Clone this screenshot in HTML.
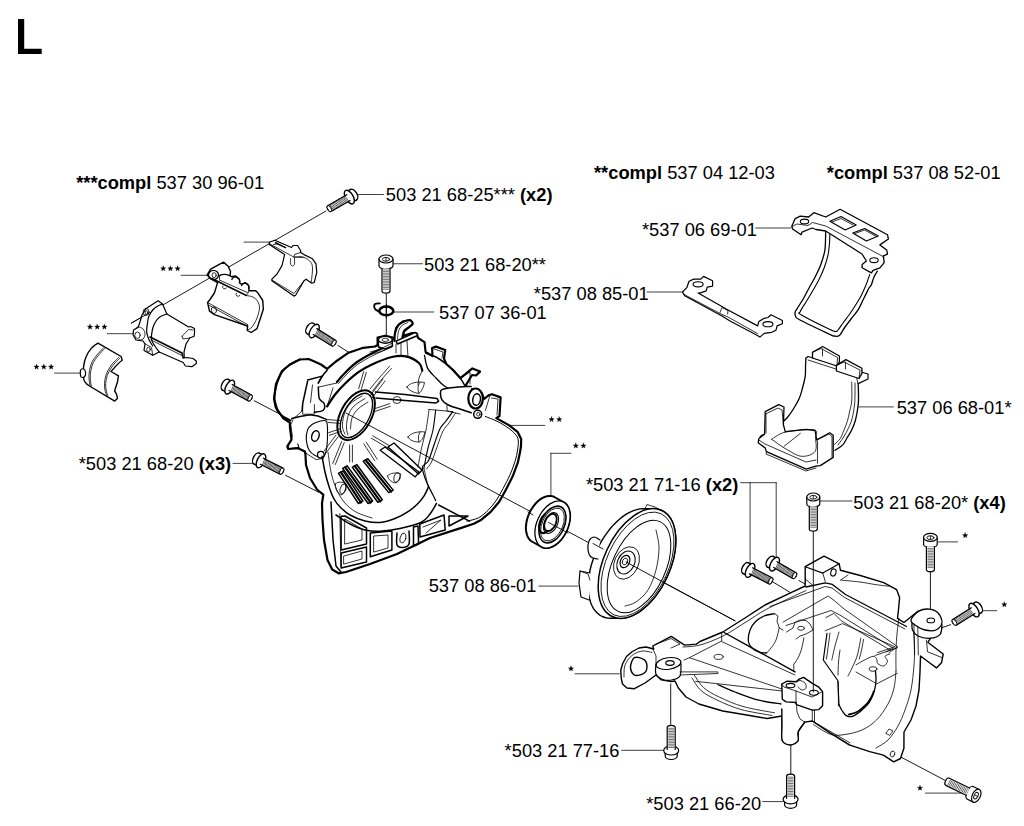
<!DOCTYPE html>
<html><head><meta charset="utf-8">
<style>
html,body{margin:0;padding:0;background:#fff;}
body{width:1024px;height:826px;position:relative;overflow:hidden;font-family:"Liberation Sans",sans-serif;color:#000;}
.t{position:absolute;font-size:18.3px;line-height:1;white-space:nowrap;}
.s{font-size:16.5px;}
#L{position:absolute;left:13px;top:10px;font-size:48px;font-weight:bold;line-height:1;}
svg{position:absolute;left:0;top:0;}
</style></head><body>
<svg width="1024" height="826" viewBox="0 0 1024 826">
<style>
g.d{fill:none;stroke:#000;stroke-width:1.2;stroke-linejoin:round;stroke-linecap:round}
.w{fill:#fff}
.th{stroke-width:0.55}
.ld{stroke:#000;stroke-width:0.75}
.ax{stroke:#000;stroke-width:0.9}
.tn{stroke-width:0.8}
</style>
<g class="d">
<path class="ld" d="M358.5,194.5 L383.5,194.5 M393,263.75 L422.5,263.75 M394,312 L433.75,312 M755.75,228 L790.75,228 M647,292 L682.5,292 M858.8,406.9 L893.3,406.9 M508.7,425.4 L544.8,425.4 M550.9,453.3 L570.9,453.3 M550.9,453.3 L550.9,495.9 M233,463.4 L254.5,463.4 M740.6,482.7 L776.2,482.7 M750.1,482.7 L750.1,563.3 M776.2,482.7 L776.2,559 M819,501 L852,501 M938.1,541.9 L957.5,541.9 M981.7,610.7 L996.7,610.7 M538.8,586.1 L577.9,586.1 M575,673.8 L619.4,673.8 M621.7,750.3 L664.4,750.3 M762.7,801.6 L783.9,801.6 M925.5,793.1 L960.9,793.1 M181.2,275.3 L207,275.3 M107.3,333.7 L132.7,333.7 M54.5,373.1 L80,373.1 M244,242.1 L269.8,242.1"/>
<path class="ax" d="M326,211 L131.4,323.1 M337.9,345.4 L349.7,353 M254.2,400.7 L291.5,420.2 M285.6,475.3 L318.6,492.2 M386.3,293 L386.3,345 M773,582 L791.7,593.4 M798.9,580.5 L809,586.2 M930.4,571 L930.4,611 M950.7,624.7 L942,627.6 M670.7,683.9 L670.7,724.4 M790.8,743.8 L790.8,774.6 M899.3,756.2 L947.4,781.6"/>
<path class="w" d="M308.6,359.0 L314.4,361.5 L321.0,364.5 L327.1,368.8 L335.9,361.5 L348.6,352.7 L363.2,347.8 L375.0,346.5 L377.6,345.0 L377.6,337.5 L385.3,335.8 L392.9,337.5 L394.5,340.0 L396.1,328.1 L402.7,321.5 L410.3,320.4 L412.5,323.7 L409.2,327.0 L403.8,331.3 L402.7,336.0 L412.0,333.0 L416.8,333.5 L418.0,337.9 L424.5,342.2 L425.6,352.0 L432.5,356.0 L432.1,348.0 L436.0,346.6 L445.2,350.0 L444.0,358.6 L446.3,364.0 L453.0,370.0 L460.4,378.2 L472.4,368.4 L480.0,371.6 L476.0,375.5 L472.0,375.0 L466.0,385.0 L468.0,391.3 L471.0,389.0 L477.0,389.0 L481.5,393.0 L484.0,399.0 L488.6,395.3 L491.9,394.2 L500.6,397.4 L499.5,416.0 L496.3,418.1 L509.3,425.4 L517.8,432.2 L521.2,439.0 L521.0,446.0 L520.3,450.8 L517.8,462.7 L512.7,476.3 L505.9,489.8 L499.2,501.7 L490.7,511.9 L480.5,520.3 L473.7,523.7 L463.6,527.1 L430.0,538.0 L397.0,554.0 L370.0,564.0 L346.0,572.0 L338.6,573.3 L332.2,569.5 L327.5,560.0 L324.0,540.0 L322.5,520.0 L322.0,503.5 L323.3,494.6 L317.0,489.5 L310.0,478.0 L306.0,465.0 L305.5,455.2 L305.0,451.5 L297.5,448.1 L288.1,449.0 L287.3,446.4 L291.5,439.7 L290.0,428.0 L289.8,422.7 L283.0,418.0 L277.0,409.0 L274.0,398.7 L276.0,384.0 L282.0,371.0 L290.0,364.5 L299.8,359.5 Z" stroke-width="2.2"/>
<path d="M299.8,359.5 C298.2,360.3 293.0,362.4 290.0,364.5 C287.0,366.6 284.2,368.9 282.0,372.0 C279.8,375.1 278.2,379.0 277.0,383.0 C275.8,387.0 274.8,392.0 274.5,396.0 C274.2,400.0 274.4,403.8 275.5,407.0 C276.6,410.2 278.5,412.8 281.0,415.0 C283.5,417.2 288.9,419.6 290.5,420.5" stroke-width="1.9"/>
<path d="M307.6,380.0 L322.2,376.1 L318.3,383.0" stroke-width="1.5"/>
<path d="M318.3,383.0 C318.9,381.9 320.5,378.6 322.0,376.5 C323.5,374.4 326.2,371.3 327.1,370.3" stroke-width="1.5"/>
<path d="M336.9,382.0 C338.2,380.5 341.4,376.4 344.7,373.2 C347.9,369.9 351.7,365.9 356.4,362.5 C361.1,359.1 367.1,355.8 373.0,352.7 C378.9,349.6 388.7,345.4 391.8,344.0" stroke-width="2.2"/>
<path class="tn" d="M338.5,383.5 C339.8,382.1 342.8,378.2 346.0,375.0 C349.2,371.8 352.8,367.8 357.5,364.5 C362.2,361.2 368.2,357.9 374.0,355.0 C379.8,352.1 389.0,348.3 392.0,347.0"/>
<path d="M327.1,406.4 C328.4,404.4 332.0,398.4 334.9,394.7 C337.8,391.0 340.8,387.8 344.7,384.0 C348.6,380.2 353.8,375.5 358.4,372.2 C362.9,368.9 366.4,366.9 372.0,364.4 C377.6,361.9 386.1,358.3 391.8,357.0 C397.5,355.7 401.5,355.4 406.0,356.4 C410.5,357.4 416.3,360.6 419.0,363.0 C421.7,365.4 421.8,369.3 422.3,370.6" stroke-width="2.2"/>
<path d="M425.6,353.1 C427.3,353.8 432.6,355.2 436.0,357.0 C439.4,358.8 443.3,361.7 446.3,364.0 C449.3,366.3 451.6,368.6 454.0,371.0 C456.4,373.4 458.1,374.8 460.4,378.2 C462.7,381.6 466.7,389.1 468.0,391.3" stroke-width="1.5"/>
<path d="M424.5,355.3 C425.0,357.5 425.8,364.6 427.7,368.4 C429.6,372.2 433.3,375.1 436.0,378.0 C438.7,380.9 440.9,383.5 444.1,385.8 C447.3,388.1 451.4,390.0 455.0,392.0 C458.6,394.0 464.1,396.8 465.9,397.8" stroke-width="1.3"/>
<path class="tn" d="M422.3,370.6 C421.8,371.8 419.7,375.6 419.0,378.0 C418.3,380.4 418.2,383.8 418.0,385.0"/>
<path d="M307.6,381.0 L302.7,403.5 L302.0,411.0" stroke-width="1.5"/>
<path class="tn" d="M312.5,384.9 L310.5,402.5"/>
<path d="M318.3,386.9 C318.5,388.8 318.3,395.8 319.3,398.6 C320.3,401.4 323.6,401.6 324.2,403.5 C324.8,405.4 324.8,408.8 323.2,410.3 C321.6,411.8 315.9,412.0 314.4,412.3" stroke-width="1.5"/>
<path class="tn" d="M319.3,386.9 L336.9,383.0"/>
<path class="tn" d="M333.0,387.9 L327.1,406.4"/>
<path class="tn" d="M302.7,404.5 L302.7,414.2 L314.4,414.2 L314.4,404.5"/>
<path class="tn" d="M302.0,411.0 L296.0,416.5 L291.5,419.3"/>
<path d="M291.8,418.6 L300.0,416.5 L310.0,414.8 L318.0,416.0 L327.0,419.6" stroke-width="1.5"/>
<path d="M306.3,440.0 C306.1,436.7 306.6,432.6 307.5,430.0 C308.4,427.4 310.1,425.9 312.0,424.5 C313.9,423.1 316.6,422.0 319.0,421.5 C321.4,421.0 325.1,419.2 326.5,421.5 C327.9,423.8 327.5,430.4 327.5,435.0 C327.5,439.6 327.2,445.3 326.5,449.0 C325.8,452.7 325.2,456.0 323.3,457.1 C321.4,458.2 317.4,456.7 315.0,455.5 C312.6,454.3 310.4,452.6 309.0,450.0 C307.6,447.4 306.6,443.3 306.3,440.0 Z" stroke-width="1.1"/>
<ellipse cx="315.4" cy="436" rx="3.6" ry="5.4" transform="rotate(18 315.4 436)" stroke-width="1.5"/>
<ellipse class="w" cx="320.8" cy="454.7" rx="3.3" ry="3.3" stroke-width="1.3"/>
<path d="M288.5,445.5 L287.8,448.7 L299.0,447.8 L297.8,444.0" stroke-width="1.1"/>
<path class="tn" d="M293.0,420.0 L290.8,424.5 L292.4,436.5 L288.5,445.0"/>
<path class="tn" d="M299.0,448.7 L316.0,459.6 L323.3,458.4"/>
<ellipse class="w" cx="356.1" cy="415.2" rx="15.3" ry="27.2" transform="rotate(29 356.1 415.2)" stroke-width="2.0"/>
<ellipse cx="356.4" cy="415.5" rx="12.6" ry="24.4" transform="rotate(29 356.4 415.5)" stroke-width="1.3"/>
<path class="tn" d="M362.0,396.0 C360.0,397.3 353.0,400.8 350.0,404.0 C347.0,407.2 345.2,411.2 344.0,415.0 C342.8,418.8 342.3,423.8 342.5,427.0 C342.7,430.2 344.6,432.8 345.0,434.0"/>
<path class="tn" d="M365.0,398.5 C363.2,399.8 356.8,403.1 354.0,406.0 C351.2,408.9 349.2,412.3 348.0,416.0 C346.8,419.7 346.5,424.8 346.5,428.0 C346.5,431.2 347.8,433.8 348.0,435.0"/>
<path class="tn" d="M368.0,402.0 C366.3,403.2 360.7,406.3 358.0,409.0 C355.3,411.7 353.2,414.7 352.0,418.0 C350.8,421.3 350.8,427.2 350.5,429.0"/>
<path class="tn" d="M338.1,436.8 L326.1,452.8 M335.9,435.2 L323.9,451.2"/>
<path class="tn" d="M344.3,442.5 L335.3,464.5 M341.7,441.5 L332.7,463.5"/>
<path class="tn" d="M352.4,445.0 L352.4,462.0 M349.6,445.0 L349.6,462.0"/>
<path class="tn" d="M366.2,442.2 L377.2,459.2 M363.8,443.8 L374.8,460.8"/>
<path class="tn" d="M372.7,435.8 L389.7,445.8 M371.3,438.2 L388.3,448.2"/>
<path class="tn" d="M374.6,408.7 L389.6,403.7 M375.4,411.3 L390.4,406.3"/>
<path class="tn" d="M369.9,396.1 L382.9,379.1 M372.1,397.9 L385.1,380.9"/>
<path class="tn" d="M358.7,388.6 L363.7,371.6 M361.3,389.4 L366.3,372.4"/>
<path class="tn" d="M339.9,423.4 L327.9,422.4 M340.1,420.6 L328.1,419.6"/>
<path class="tn" d="M341.4,431.3 L329.4,435.3 M340.6,428.7 L328.6,432.7"/>
<path d="M338.5,473.3 L343.0,470.8 L362.9,501.0 L358.4,503.5 Z" stroke-width="1.5"/>
<path d="M341.0,472.3 L360.9,502.5" stroke-width="2.2"/>
<path d="M342.7,468.4 L347.2,465.9 L372.6,501.0 L368.1,503.5 Z" stroke-width="1.5"/>
<path d="M345.2,467.4 L370.6,502.5" stroke-width="2.2"/>
<path d="M352.4,467.2 L356.9,464.7 L382.3,499.8 L377.8,502.3 Z" stroke-width="1.5"/>
<path d="M354.9,466.2 L380.3,501.3" stroke-width="2.2"/>
<path d="M363.3,461.2 L367.8,458.7 L393.2,490.1 L388.7,492.6 Z" stroke-width="1.5"/>
<path d="M365.8,460.2 L391.2,491.6" stroke-width="2.2"/>
<path d="M380.2,450.3 L385.0,447.0 L419.0,472.0 L415.3,476.9 Z" stroke-width="1.3"/>
<path d="M388.0,447.0 L394.0,443.0 L422.0,470.0 L418.5,474.0 Z" stroke-width="1.4"/>
<path class="tn" d="M335.4,484 C338,481 343,482 346.3,484 C346,489 344,494 341,495 C338,494 335,489 335.4,484 Z"/>
<ellipse class="tn" cx="343" cy="489" rx="2.8" ry="5" transform="rotate(15 343 489)"/>
<path class="tn" d="M387.5,476 C390,473 396,472 400.8,474 C400,478 398,482 395,483 C392,482 388,480 387.5,476 Z"/>
<ellipse class="tn" cx="397" cy="477.5" rx="3" ry="5" transform="rotate(15 397 477.5)"/>
<path d="M322.1,456.3 C322.6,458.9 323.8,466.8 325.0,472.0 C326.2,477.2 327.9,483.3 329.4,487.8 C330.9,492.3 332.2,495.8 334.0,499.0 C335.8,502.2 337.6,504.5 340.3,507.2 C343.0,509.9 345.9,512.7 350.0,515.0 C354.1,517.3 360.0,519.8 365.0,521.0 C370.0,522.2 375.0,522.9 380.0,522.5 C385.0,522.1 390.1,520.5 395.0,518.5 C399.9,516.5 405.5,513.3 409.3,510.8 C413.1,508.3 415.6,505.9 418.0,503.5 C420.4,501.1 422.2,498.9 423.9,496.2 C425.6,493.5 427.6,488.9 428.3,487.4" stroke-width="1.5"/>
<path class="tn" d="M328.0,452.0 C328.5,455.3 329.7,466.0 331.0,472.0 C332.3,478.0 333.8,483.0 336.0,488.0 C338.2,493.0 340.7,498.0 344.0,502.0 C347.3,506.0 351.3,509.3 356.0,512.0 C360.7,514.7 369.3,517.0 372.0,518.0"/>
<path d="M336.0,515.0 C338.3,516.5 345.2,521.5 350.0,524.0 C354.8,526.5 360.0,528.8 365.0,530.0 C370.0,531.2 374.2,531.5 380.0,531.3 C385.8,531.0 393.2,530.0 400.0,528.5 C406.8,527.0 416.0,524.9 421.0,522.5 C426.0,520.1 427.4,517.2 430.0,514.0 C432.6,510.8 435.4,505.2 436.5,503.5" stroke-width="1.5"/>
<path d="M438.6,505.0 L469.4,521.1" stroke-width="1.5"/>
<path class="tn" d="M428.7,409.4 L452.7,411.6"/>
<path d="M435.7,410.0 C435.2,413.3 434.3,423.7 433.0,430.0 C431.7,436.3 429.5,441.6 428.0,448.0 C426.5,454.4 424.6,464.9 423.9,468.3" stroke-width="1.1"/>
<path class="tn" d="M429.0,410.0 C428.5,413.3 427.2,423.7 426.0,430.0 C424.8,436.3 422.8,441.9 421.5,448.0 C420.2,454.1 418.6,463.8 418.0,466.9"/>
<path d="M452.7,411.6 C451.6,413.2 448.1,418.1 446.0,421.0 C443.9,423.9 442.0,424.8 440.0,428.8 C438.0,432.8 435.9,439.6 434.0,445.0 C432.1,450.4 430.2,457.4 428.3,461.0 C426.4,464.6 423.1,464.1 422.5,466.9 C421.9,469.7 423.8,474.4 425.0,478.0 C426.2,481.6 428.5,486.0 429.8,488.8 C431.1,491.6 432.0,493.0 433.0,495.0 C434.0,497.0 435.2,499.7 435.7,500.6" stroke-width="1.2"/>
<path class="tn" d="M455.5,413.0 C454.4,414.7 451.1,420.0 449.0,423.0 C446.9,426.0 445.0,427.0 443.0,431.0 C441.0,435.0 438.9,441.8 437.0,447.0 C435.1,452.2 433.2,458.3 431.5,462.0 C429.8,465.7 427.3,467.8 426.5,469.0"/>
<path class="tn" d="M423.9,468.3 L428.3,487.4"/>
<path d="M485.4,416.5 C487.3,417.3 493.2,419.3 497.0,421.2 C500.8,423.1 504.9,425.6 508.0,427.8 C511.1,430.0 513.6,432.2 515.3,434.2 C517.0,436.2 517.8,437.4 518.2,440.0 C518.6,442.6 518.1,446.4 517.6,450.0 C517.1,453.6 516.3,457.4 515.0,461.5 C513.7,465.6 512.0,470.3 510.0,474.8 C508.0,479.3 505.4,484.1 503.2,488.3 C500.9,492.5 498.9,496.4 496.5,500.0 C494.1,503.6 491.5,506.8 488.5,509.8 C485.5,512.8 482.1,515.9 478.5,517.8 C474.9,519.7 468.9,520.6 467.0,521.2" stroke-width="1.0"/>
<path class="tn" d="M407,387 C409,383 418,381 424.5,382.5 C424,386 422,391 419,393.4 C414,393 408,390 407,387 Z"/>
<path class="tn" d="M420,382.5 C417.5,385 417.5,390 419,393.4"/>
<path class="tn" d="M408,437 C410,433 419,431 425,432 C424,436 422,441 419,442 C414,442 409,440 408,437 Z"/>
<path class="tn" d="M420,432 C418,435 418,439 419,442"/>
<path d="M375.4,392.0 L405.0,394.5 L437.0,398.5 L438.6,401.1 L436.0,403.0 L405.0,400.5 L376.0,398.0" stroke-width="1.5"/>
<ellipse class="tn" cx="397" cy="400" rx="4" ry="3.5"/>
<path class="tn" d="M370.0,389.0 C371.7,387.0 376.7,380.8 380.0,377.0 C383.3,373.2 388.0,368.0 389.6,366.2"/>
<path class="tn" d="M372.5,391.0 C374.1,389.0 378.8,382.8 382.0,379.0 C385.2,375.2 389.9,370.2 391.5,368.5"/>
<path class="w" d="M471.2,386.5 C469.0,386.6 462.4,386.6 458.0,387.0 C453.6,387.4 447.9,388.1 445.0,388.7 C442.1,389.3 441.2,389.1 440.7,390.9 C440.2,392.7 440.5,397.2 441.8,399.6 C443.1,402.0 445.3,403.4 448.3,405.0 C451.3,406.6 456.2,407.7 460.0,409.0 C463.8,410.3 469.3,412.1 471.2,412.7" stroke-width="1.5"/>
<path class="tn" d="M447.0,405.5 L447.0,411.0 L460.0,414.0"/>
<ellipse class="w" cx="475.6" cy="398.5" rx="7.3" ry="10" stroke-width="2.2"/>
<ellipse cx="476.6" cy="399.6" rx="3.8" ry="5.8" transform="rotate(10 476.6 399.6)" stroke-width="1.5"/>
<ellipse class="w" cx="477.7" cy="414.3" rx="4" ry="4" stroke-width="1.5"/>
<ellipse class="tn" cx="478.3" cy="414.3" rx="1.7" ry="1.8"/>
<path class="tn" d="M489.7,396.3 L485.4,410.5"/>
<path class="tn" d="M491.5,398.0 L498.0,399.0 L497.0,415.0"/>
<path class="tn" d="M460.4,378.2 L470.0,372.0 L470.0,384.0"/>
<path class="tn" d="M434.0,349.0 L443.0,352.0 L442.0,358.0"/>
<path class="w" d="M378.2,339.7 L378.5,347.0 L385.0,349.0 L392.3,346.0 L392.3,339.7" stroke-width="1.5"/>
<ellipse class="w" cx="385.3" cy="339.7" rx="7" ry="3.5" stroke-width="1.5"/>
<ellipse class="tn" cx="385.3" cy="339.9" rx="3.3" ry="1.6"/>
<path class="w" d="M394.5,341.0 C394.6,339.7 394.4,335.6 395.0,333.0 C395.6,330.4 396.5,327.4 398.0,325.5 C399.5,323.6 401.9,322.4 404.0,321.5 C406.1,320.6 408.9,320.0 410.3,320.4 C411.7,320.8 412.7,322.6 412.5,323.7 C412.3,324.8 410.5,325.9 409.2,327.0 C407.9,328.1 405.6,329.0 404.5,330.5 C403.4,332.0 403.0,334.2 402.7,336.0 C402.4,337.8 402.5,340.2 402.5,341.0" stroke-width="2.2"/>
<path class="tn" d="M397.5,339.0 C397.7,337.7 397.8,333.2 398.5,331.0 C399.2,328.8 400.4,326.9 402.0,325.5 C403.6,324.1 407.0,323.0 408.0,322.5"/>
<path class="w" d="M396.1,341.1 L415.0,332.5 L417.5,334.0 L416.5,336.0 L397.5,344.0 Z" stroke-width="1.5"/>
<path class="tn" d="M396.0,344.0 L396.0,353.0"/>
<path class="tn" d="M401.0,343.0 L401.0,355.0"/>
<path class="tn" d="M407.0,341.0 L408.0,357.0"/>
<path class="tn" d="M370.0,352.0 C371.7,351.5 376.4,350.4 380.0,349.0 C383.6,347.6 389.8,344.2 391.8,343.3"/>
<path class="tn" d="M370.0,354.5 C371.8,354.0 377.2,352.9 381.0,351.5 C384.8,350.1 391.0,346.9 393.0,346.0"/>
<path d="M331.0,502.0 L333.0,540.0 L336.0,566.0 L341.0,572.0" stroke-width="1.5"/>
<path class="tn" d="M339.8,513.6 L341.0,566.0"/>
<path d="M341.1,516.2 L345.0,516.0 L366.5,528.0 L366.5,544.1 L341.1,550.0 Z" stroke-width="1.5"/>
<path class="tn" d="M345.0,519.0 L362.0,529.0 L362.0,540.0 L345.0,544.0 Z"/>
<path d="M341.1,553.0 L366.5,547.0 L366.5,562.0 L341.1,568.0 Z" stroke-width="1.5"/>
<path class="tn" d="M344.0,556.0 L362.0,551.0 L362.0,559.0 L344.0,564.0 Z"/>
<path d="M370.3,533.0 L391.9,531.0 L391.9,550.0 L370.3,556.8 Z" stroke-width="1.5"/>
<path class="tn" d="M374.0,536.0 L388.0,535.0 L388.0,548.0 L374.0,552.0 Z"/>
<path d="M397.0,533.0 C397.0,535.0 396.0,542.6 397.0,545.0 C398.0,547.4 401.0,547.7 403.0,547.5 C405.0,547.3 408.0,546.8 409.0,544.0 C410.0,541.2 409.0,533.2 409.0,531.0" stroke-width="1.5"/>
<ellipse class="tn" cx="403" cy="538" rx="2.8" ry="5" transform="rotate(15 403 538)"/>
<path d="M413.5,527.0 L418.0,526.0 L418.6,544.0 L413.5,546.0 Z" stroke-width="1.5"/>
<path d="M419.8,524.0 L444.0,515.0 L445.2,530.0 L420.0,537.0 Z" stroke-width="1.5"/>
<path class="tn" d="M423.0,527.0 L441.0,520.0 L426.0,533.0"/>
<path d="M449.0,516.0 L468.0,516.0 L449.0,526.0 Z" stroke-width="1.5"/>
<path class="ax" d="M346,413 L735,620.8"/>
<path class="w" d="M621.2,678.0 L620.8,670.0 L622.7,663.5 L626.5,656.5 L632.4,651.5 L639.0,648.0 L646.0,647.0 L653.7,649.0 L652.8,646.0 L671.2,636.4 L684.7,645.1 L696.4,644.1 L700.0,641.5 L722.8,632.0 L745.0,618.0 L765.0,605.0 L791.0,592.7 L805.2,586.0 L805.2,566.7 L824.0,556.1 L839.2,563.8 L840.4,570.2 L860.3,575.5 L883.7,582.6 L896.6,589.6 L899.6,597.8 L898.4,610.6 L897.5,618.4 L903.9,622.5 L910.8,617.0 L917.6,611.5 L924.4,609.8 L939.8,616.6 L941.5,628.6 L938.1,633.7 L931.3,637.1 L927.8,642.3 L943.2,654.0 L941.5,662.8 L936.4,667.9 L929.5,662.8 L920.5,656.0 L920.0,672.0 L919.0,690.0 L916.0,706.0 L911.0,720.0 L904.0,732.0 L903.9,748.2 L900.5,758.5 L893.7,761.9 L883.4,755.1 L869.7,751.6 L849.2,744.8 L830.0,733.0 L812.3,721.0 L804.7,722.1 L798.1,731.9 L798.1,740.6 L790.5,745.0 L782.3,740.6 L782.0,725.0 L781.8,716.0 L767.2,718.5 L746.7,715.0 L722.8,711.0 L698.9,704.0 L686.0,697.0 L678.4,688.0 L675.0,681.0 L671.5,681.6 L661.3,679.9 L656.0,675.0 L645.0,683.0 L634.4,688.7 L627.0,688.0 L622.5,684.0 Z" stroke-width="1.4"/>
<path class="tn" d="M624.0,677.0 C624.1,675.3 623.8,670.0 624.5,667.0 C625.2,664.0 626.8,661.2 628.5,659.0 C630.2,656.8 632.6,654.8 635.0,653.5 C637.4,652.2 640.2,651.2 643.0,651.0 C645.8,650.8 650.5,652.2 652.0,652.5"/>
<path d="M634.4,657.7 C636.6,656.4 641.9,658.2 644.0,659.6 C646.1,661.0 647.0,664.1 647.0,666.4 C647.0,668.7 646.1,671.8 644.0,673.2 C641.9,674.7 636.6,676.1 634.4,675.1 C632.1,674.1 630.5,670.2 630.5,667.3 C630.5,664.4 632.1,659.0 634.4,657.7 Z" stroke-width="1.4"/>
<path class="tn" d="M652.7,648.5 L656.0,656.0 L656.0,673.0"/>
<path class="tn" d="M655.0,644.5 L671.0,638.5 L680.0,644.0 L671.0,648.0"/>
<path class="w" d="M656.0,664.0 C656.0,665.7 654.8,671.4 656.0,674.0 C657.2,676.6 660.3,678.5 663.0,679.5 C665.7,680.5 669.2,680.6 672.0,680.0 C674.8,679.4 678.5,678.7 680.0,676.0 C681.5,673.3 680.8,666.0 681.0,664.0"/>
<ellipse class="w" cx="668.5" cy="663.5" rx="12.5" ry="5.8" transform="rotate(-8 668.5 663.5)"/>
<ellipse cx="670" cy="663" rx="4.2" ry="2.3"/>
<path class="tn" d="M683.0,647.0 C685.8,646.7 693.3,646.8 700.0,645.0 C706.7,643.2 715.3,639.8 723.0,636.0 C730.7,632.2 738.8,626.4 746.0,622.0 C753.2,617.6 758.3,613.7 766.0,609.5 C773.7,605.3 785.3,600.2 792.0,597.0 C798.7,593.8 803.7,591.6 806.0,590.5"/>
<path class="tn" d="M721.7,633.0 L721.7,641.0"/>
<path d="M724.1,632.5 L795.0,671.9" stroke-width="1.4"/>
<path class="tn" d="M722.5,642.0 L795.0,675.0"/>
<path class="tn" d="M689.4,657.7 L782.4,689.2"/>
<path class="tn" d="M684.0,660.0 L689.4,657.7 L721.7,641.0"/>
<path class="tn" d="M695.7,681.3 L782.4,691.0"/>
<path class="tn" d="M680.0,671.9 L717.8,671.9 L718.0,673.5 L680.0,675.0"/>
<ellipse class="tn" cx="718.6" cy="656.9" rx="4.6" ry="2.5"/>
<path d="M774.5,613.6 C772.8,614.0 767.1,614.7 764.0,616.0 C760.9,617.3 757.9,619.2 755.6,621.5 C753.3,623.8 751.2,626.6 750.0,630.0 C748.8,633.4 748.1,639.0 748.5,642.0 C748.9,645.0 750.6,646.6 752.4,648.3 C754.1,650.0 756.6,651.2 759.0,652.0 C761.4,652.8 765.3,652.8 766.6,653.0" stroke-width="1.3"/>
<path class="tn" d="M779.2,627.8 C778.7,629.8 777.4,636.6 776.0,640.0 C774.6,643.4 772.6,645.8 771.0,648.0 C769.4,650.2 767.3,652.2 766.6,653.0"/>
<path class="tn" d="M774.5,613.6 L778.0,616.0 L777.0,621.0 L779.2,627.8 L783.0,630.0"/>
<path class="tn" d="M694.2,675.0 C695.8,677.1 699.4,683.9 703.6,687.6 C707.8,691.3 712.8,694.0 719.4,697.1 C726.0,700.2 733.8,703.9 743.0,706.5 C752.2,709.1 769.2,711.8 774.5,712.8"/>
<path class="tn" d="M692.0,678.0 C693.5,680.1 696.8,686.8 701.0,690.5 C705.2,694.2 710.3,696.8 717.0,700.0 C723.7,703.2 731.8,706.9 741.0,709.5 C750.2,712.1 766.8,714.5 772.0,715.5"/>
<path d="M717.8,684.5 C720.7,685.8 728.2,689.4 735.0,692.0 C741.8,694.6 751.0,698.2 758.7,700.2 C766.4,702.2 777.3,703.4 781.0,704.0" stroke-width="1.3"/>
<path d="M806.0,587.0 L825.2,582.9 L832.4,584.4 L845.5,594.5 L906.5,626.5" stroke-width="1.3"/>
<path class="tn" d="M770.0,606.5 L825.2,586.5 L832.0,588.0 L844.5,597.5 L905.0,629.0"/>
<path class="tn" d="M783.1,622.1 L828.1,596.0 L833.9,600.3 L844.1,609.0 L897.8,646.8 L889.1,652.6"/>
<path class="tn" d="M786.0,625.5 L831.0,610.5 L839.7,614.9 L893.4,648.3 L886.0,652.0"/>
<path class="tn" d="M826.0,617.5 L833.9,613.4 L841.2,620.7 L890.0,650.0"/>
<path class="tn" d="M825.2,630.8 L842.6,623.6 L894.9,646.8 L877.5,652.6"/>
<path class="tn" d="M786.5,632.0 L793.0,628.0 L795.0,622.5 L800.0,620.0 L806.0,620.5 L810.0,624.0 L813.0,630.0 L806.0,634.0 L800.0,636.0 L796.0,639.0"/>
<ellipse class="tn" cx="801" cy="628.3" rx="3.4" ry="2"/>
<path class="tn" d="M803.9,637.8 C803.7,639.0 803.0,642.8 802.5,645.0 C802.0,647.2 801.7,648.8 801.0,650.8 C800.3,652.8 799.5,655.0 798.5,657.0 C797.5,659.0 795.8,661.6 795.2,662.5"/>
<path class="tn" d="M795.2,662.5 L793.8,664.0 L793.8,671.2"/>
<path class="tn" d="M856.0,664.8 C857.4,664.0 861.7,661.4 864.5,660.0 C867.3,658.6 871.0,656.5 873.0,656.3 C875.0,656.1 875.8,657.5 876.6,658.7 C877.4,659.9 876.6,662.4 877.8,663.6 C879.0,664.8 882.2,666.4 883.8,666.0 C885.4,665.6 887.3,662.8 887.5,661.2 C887.7,659.6 884.6,657.5 885.0,656.3 C885.4,655.1 889.1,654.3 889.9,653.9"/>
<ellipse class="tn" cx="873" cy="669" rx="4" ry="2.3"/>
<path d="M827.0,633.3 L823.3,660.0 L837.8,680.5 L839.0,704.7" stroke-width="1.2"/>
<path class="tn" d="M830.0,633.0 L826.5,659.0"/>
<path d="M839.0,704.7 C839.5,705.7 840.8,708.7 842.0,710.5 C843.2,712.3 844.6,714.6 846.3,715.6 C848.0,716.6 850.0,716.9 852.0,716.5 C854.0,716.1 856.4,714.4 858.4,713.0 C860.4,711.6 862.2,709.8 864.0,708.0 C865.8,706.2 867.9,704.3 869.3,702.3 C870.7,700.3 871.6,698.0 872.5,696.0 C873.4,694.0 874.0,692.2 874.5,690.2 C875.0,688.2 875.5,686.0 875.7,684.0 C876.0,682.0 876.0,680.3 876.0,678.1 C876.0,675.9 875.5,672.0 875.4,670.8" stroke-width="1.3"/>
<path d="M849.0,714.5 C850.3,714.1 854.6,713.2 857.0,712.0 C859.4,710.8 861.7,708.6 863.5,707.0 C865.3,705.4 866.7,704.2 868.0,702.5 C869.3,700.8 870.5,698.8 871.5,697.0 C872.5,695.2 873.4,692.4 873.8,691.5" stroke-width="1.9"/>
<path class="tn" d="M876.0,684.2 L897.2,673.3"/>
<path class="tn" d="M856.0,672.0 L875.4,683.0"/>
<path class="tn" d="M839.0,632.1 C838.3,634.4 836.2,641.4 835.0,646.0 C833.8,650.6 832.3,657.7 831.8,660.0"/>
<path class="tn" d="M860.8,638.2 C860.5,639.8 859.7,644.7 859.0,648.0 C858.3,651.3 857.7,654.7 856.5,658.0 C855.3,661.3 853.4,665.0 852.0,668.0 C850.6,671.0 848.7,674.7 848.0,676.0"/>
<path class="tn" d="M863.5,639.5 C863.2,641.1 862.5,645.8 861.8,649.0 C861.1,652.2 859.7,657.3 859.3,659.0"/>
<path class="tn" d="M840.0,650.0 C839.8,652.0 838.8,657.8 838.5,662.0 C838.2,666.2 838.1,672.8 838.0,675.0"/>
<path class="tn" d="M897.2,647.8 L875.0,655.5"/>
<path class="tn" d="M896.0,671.0 C895.7,673.8 895.3,682.5 894.0,688.0 C892.7,693.5 890.9,698.7 888.0,704.0 C885.1,709.3 880.9,715.6 876.6,719.9 C872.3,724.2 867.3,727.6 862.0,730.0 C856.7,732.4 850.2,733.8 845.0,734.5 C839.8,735.2 835.8,736.0 830.6,734.4 C825.4,732.8 816.4,726.3 813.6,724.7"/>
<path class="tn" d="M912.9,623.0 C913.2,626.7 914.3,638.0 914.5,645.0 C914.7,652.0 914.6,657.5 914.0,665.0 C913.4,672.5 912.5,682.5 911.0,690.0 C909.5,697.5 907.2,704.0 905.0,710.0 C902.8,716.0 900.8,721.0 898.0,726.0 C895.2,731.0 891.7,736.3 888.0,740.0 C884.3,743.7 878.0,746.7 876.0,748.0"/>
<path class="tn" d="M898.8,618.4 C898.5,621.0 897.5,628.7 897.0,634.0 C896.5,639.3 896.2,643.8 896.0,650.0 C895.8,656.2 896.0,667.5 896.0,671.0"/>
<path class="tn" d="M886.0,733.0 L889.0,729.0 L893.0,731.0 L890.0,735.0 Z"/>
<ellipse class="tn" cx="892.5" cy="754" rx="2.2" ry="3" transform="rotate(20 892.5 754)"/>
<path class="w" d="M912.0,621.0 C912.1,622.5 911.5,627.5 912.5,630.0 C913.5,632.5 915.0,634.6 918.0,636.0 C921.0,637.4 926.7,638.5 930.4,638.2 C934.1,637.9 938.2,636.5 940.1,634.3 C942.0,632.1 941.7,626.5 942.0,625.0" stroke-width="1.3"/>
<path class="w" d="M911.0,619.8 C911.6,617.5 915.7,612.9 918.8,611.1 C921.9,609.3 926.2,608.8 929.4,609.1 C932.6,609.4 936.0,610.7 938.1,613.0 C940.2,615.3 942.4,619.9 942.0,622.7 C941.6,625.5 938.8,628.8 936.0,630.0 C933.2,631.2 928.5,630.8 925.0,630.0 C921.5,629.2 917.3,626.7 915.0,625.0 C912.7,623.3 910.4,622.1 911.0,619.8 Z" stroke-width="1.3"/>
<ellipse cx="930.8" cy="620.4" rx="3.8" ry="2.4" stroke-width="1.1"/>
<path class="tn" d="M913.9,624.0 L914.5,655.0"/>
<path class="tn" d="M917.8,627.0 L918.3,655.0"/>
<path class="tn" d="M926.5,640.2 L927.5,651.8 L942.0,657.6"/>
<path d="M805.2,566.7 L822.8,573.1 L839.2,563.8" stroke-width="1.2"/>
<path class="tn" d="M822.8,573.1 L825.2,581.4"/>
<path class="tn" d="M805.2,579.0 L812.3,584.9"/>
<ellipse cx="833.4" cy="572.5" rx="2.6" ry="3.6" transform="rotate(15 833.4 572.5)" stroke-width="1.1"/>
<path class="tn" d="M840.4,580.2 L848.0,575.0"/>
<path class="tn" d="M841.6,580.2 C844.7,580.5 854.4,581.3 860.0,582.0 C865.6,582.7 870.3,583.8 875.0,584.5 C879.7,585.2 886.2,585.9 888.4,586.2"/>
<path class="w" d="M781.8,709.0 C781.8,711.7 781.9,719.7 782.0,725.0 C782.1,730.3 780.9,737.3 782.3,740.6 C783.7,743.9 787.9,745.0 790.5,745.0 C793.1,745.0 796.8,742.8 798.1,740.6 C799.4,738.4 797.0,735.0 798.1,731.9 C799.2,728.8 803.6,723.7 804.7,722.1" stroke-width="1.4"/>
<path class="w" d="M781.8,684.0 L787.2,681.2 L796.0,681.8 L799.2,679.1 L803.6,677.4 L812.3,683.4 L818.8,687.2 L822.6,691.6 L822.6,705.8 L818.8,709.6 L812.3,710.1 L796.5,704.7 L796.0,702.5 L786.1,701.9 L782.3,699.2 Z" stroke-width="1.4"/>
<path class="tn" d="M781.8,684.0 L784.0,687.0 L796.0,691.0 L812.0,697.0 L822.6,691.6"/>
<path class="tn" d="M796.0,691.0 L796.0,704.0"/>
<ellipse cx="790.5" cy="685.6" rx="4.4" ry="2.2" stroke-width="1.1"/>
<ellipse cx="813.9" cy="692.7" rx="4.4" ry="2.5" stroke-width="1.1"/>
<path class="tn" d="M797.0,682.0 C797.5,681.8 798.7,680.3 800.0,680.5 C801.3,680.7 804.0,681.8 805.0,683.0 C806.0,684.2 806.5,686.8 806.0,688.0 C805.5,689.2 803.3,690.2 802.0,690.0 C800.7,689.8 798.7,687.5 798.0,687.0"/>
<path class="tn" d="M796.5,704.7 L797.0,712.0 L800.0,719.0 L804.7,722.1"/>
<path class="tn" d="M812.3,710.1 L812.3,721.0 L850.0,742.8"/>
<path class="tn" d="M814.5,710.0 L814.5,722.5 L850.0,745.0"/>
<path class="tn" d="M838.4,681.8 L838.4,705.8"/>
<path class="w" d="M525.9,527.1 L526.1,525.2 L526.3,523.1 L526.7,521.1 L527.2,519.0 L527.8,517.0 L528.6,514.9 L529.5,512.9 L530.4,511.0 L531.5,509.1 L532.7,507.3 L533.9,505.6 L535.2,504.0 L536.6,502.5 L538.1,501.1 L539.5,499.9 L541.0,498.8 L542.6,497.9 L544.1,497.2 L545.6,496.6 L547.1,496.2 L548.6,496.0 L550.1,495.9 L551.5,496.0 L552.8,496.4 L554.1,496.8 L555.2,497.5 L564.2,502.5 L565.3,503.3 L566.3,504.3 L567.2,505.4 L568.0,506.7 L568.7,508.2 L569.2,509.7 L569.6,511.4 L569.9,513.1 L570.1,515.0 L570.1,516.9 L569.9,518.8 L569.7,520.9 L569.3,522.9 L568.8,525.0 L568.2,527.0 L567.4,529.1 L566.5,531.1 L565.6,533.0 L564.5,534.9 L563.3,536.7 L562.1,538.4 L560.8,540.0 L559.4,541.5 L557.9,542.9 L556.5,544.1 L555.0,545.2 L553.4,546.1 L551.9,546.8 L550.4,547.4 L548.9,547.8 L547.4,548.0 L545.9,548.1 L544.5,548.0 L543.2,547.6 L541.9,547.2 L540.8,546.5 L531.8,541.5 L530.7,540.7 L529.7,539.7 L528.8,538.6 L528.0,537.3 L527.3,535.8 L526.8,534.3 L526.4,532.6 L526.1,530.9 L525.9,529.0 Z" stroke-width="2.0"/>
<ellipse class="w" cx="552.5" cy="524.5" rx="15.5" ry="25" transform="rotate(25 552.5 524.5)" stroke-width="1.3"/>
<ellipse cx="552.5" cy="524.5" rx="11.8" ry="19.5" transform="rotate(25 552.5 524.5)" stroke-width="1.6"/>
<ellipse class="tn" cx="552.5" cy="524.5" rx="10.3" ry="17.5" transform="rotate(25 552.5 524.5)"/>
<ellipse cx="551" cy="523" rx="6.6" ry="11" transform="rotate(25 551 523)" stroke-width="1.0"/>
<ellipse cx="550.5" cy="522.5" rx="5.4" ry="9.2" transform="rotate(25 550.5 522.5)" stroke-width="1.8"/>
<path d="M545,514 A5,9 25 0 0 548,531" stroke-width="2.2"/>
<path class="ax" d="M548.6,522.5 L568,533"/>
<path class="ax" d="M528,512 L533,515"/>
<path class="w" d="M588.2,586.9 L588.3,582.5 L588.7,577.9 L589.4,573.3 L590.4,568.5 L591.7,563.8 L593.3,559.0 L595.1,554.2 L597.1,549.6 L599.4,545.0 L601.8,540.6 L604.5,536.3 L607.4,532.3 L610.3,528.5 L613.5,524.9 L616.7,521.7 L620.0,518.7 L623.3,516.1 L626.7,513.9 L630.1,512.1 L633.5,510.6 L636.8,509.6 L640.0,508.9 L643.1,508.7 L653.1,508.7 L656.2,508.9 L659.0,509.5 L661.7,510.5 L664.2,511.9 L666.5,513.7 L668.6,515.9 L670.5,518.4 L672.0,521.3 L673.4,524.6 L674.4,528.1 L675.2,531.8 L675.6,535.9 L675.8,540.1 L675.7,544.5 L675.3,549.1 L674.6,553.7 L673.6,558.5 L672.3,563.2 L670.7,568.0 L668.9,572.8 L666.9,577.4 L664.6,582.0 L662.2,586.4 L659.5,590.7 L656.6,594.7 L653.7,598.5 L650.5,602.1 L647.3,605.3 L644.0,608.3 L640.7,610.9 L637.3,613.1 L633.9,614.9 L630.5,616.4 L627.2,617.4 L624.0,618.1 L620.9,618.3 L610.9,618.3 L607.8,618.1 L605.0,617.5 L602.3,616.5 L599.8,615.1 L597.5,613.3 L595.4,611.1 L593.5,608.6 L592.0,605.7 L590.6,602.4 L589.6,598.9 L588.8,595.2 L588.4,591.1 Z" stroke-width="1.4"/>
<path class="w" d="M600.0,540.0 C599.0,539.5 595.8,536.8 594.0,537.0 C592.2,537.2 590.0,538.8 589.0,541.0 C588.0,543.2 587.7,547.3 588.0,550.0 C588.3,552.7 589.3,555.5 591.0,557.0 C592.7,558.5 596.8,558.7 598.0,559.0"/>
<path class="w" d="M590.0,573.0 L580.0,571.0 L579.0,583.0 L581.0,597.0 L589.0,600.0"/>
<path class="tn" d="M580.0,571.0 L588.0,574.0 L590.0,580.0"/>
<path class="tn" d="M645.0,509.0 L647.0,504.5 L655.0,507.0 L664.0,512.0"/>
<ellipse class="w" cx="637" cy="563.5" rx="33" ry="58.5" transform="rotate(25 637 563.5)" stroke-width="1.5"/>
<ellipse class="tn" cx="637.5" cy="564.3" rx="30.8" ry="55.8" transform="rotate(25 637.5 564.3)"/>
<ellipse cx="639" cy="566.5" rx="26.5" ry="49.5" transform="rotate(25 639 566.5)" stroke-width="1.0"/>
<path class="tn" d="M656.0,530.0 C656.5,533.0 659.0,541.3 659.0,548.0 C659.0,554.7 657.8,563.0 656.0,570.0 C654.2,577.0 651.3,584.7 648.0,590.0 C644.7,595.3 639.8,599.3 636.0,602.0 C632.2,604.7 626.8,605.3 625.0,606.0"/>
<ellipse class="tn" cx="626.5" cy="563" rx="12" ry="17" transform="rotate(25 626.5 563)"/>
<ellipse cx="626" cy="562.5" rx="8.5" ry="12" transform="rotate(25 626 562.5)" stroke-width="1.1"/>
<ellipse cx="625" cy="561.5" rx="4.5" ry="6.5" transform="rotate(25 625 561.5)"/>
<ellipse class="tn" cx="625" cy="561.5" rx="2.5" ry="3.5" transform="rotate(25 625 561.5)"/>
<path class="ax" d="M626,562 L735,620.8"/>
<path class="ax" d="M593,543.5 L603,549"/>
<path class="ax" d="M813.3,531 L813.3,692"/>
<path class="w" d="M269.3,242.3 L274.8,240.2 L291.5,247.5 L293.0,245.5 L297.5,245.5 L300.5,250.5 L300.7,252.5 L304.0,254.6 L312.5,258.8 L316.0,263.9 L316.8,272.4 L314.2,282.5 L311.7,283.2 L306.2,279.2 L304.0,280.8 L295.6,295.3 L293.9,296.1 L271.9,280.8 L271.9,279.2 L277.0,274.0 L282.0,265.6 L284.6,254.6 L269.3,244.5 Z"/>
<path class="tn" d="M269.3,243.6 L293.9,257.1 L294.7,254.3 L300.7,252.5"/>
<path class="tn" d="M293.9,257.1 L303.2,257.4"/>
<path class="tn" d="M294.7,257.1 C296.1,257.1 300.5,256.2 303.2,257.1 C305.9,258.0 309.2,260.2 310.8,262.2 C312.4,264.2 312.4,265.8 312.5,269.0 C312.6,272.2 311.5,279.6 311.3,281.7"/>
<path class="tn" d="M290.5,258.5 C290.5,259.4 290.2,262.8 290.5,264.0 C290.8,265.2 291.8,266.0 292.5,266.0 C293.2,266.0 294.2,265.3 294.5,264.0 C294.8,262.7 294.5,259.0 294.5,258.0"/>
<path class="tn" d="M272.0,280.0 L294.0,293.5 L304.0,280.8"/>
<path d="M275.5,242.8 L285.5,247.6" stroke-width="1.5"/>
<path class="tn" d="M273.5,244.5 L278.0,243.8"/>
<path class="w" d="M207.1,275.0 L210.6,269.1 L223.5,262.1 L228.2,266.2 L230.5,271.5 L230.0,275.6 L232.0,277.0 L232.5,276.5 L235.6,275.9 L239.3,279.5 L240.0,283.5 L242.0,284.2 L245.2,282.6 L248.7,285.8 L249.0,290.5 L249.9,290.8 L255.7,290.8 L258.0,293.1 L262.8,300.5 L263.3,309.2 L260.5,318.0 L258.9,322.8 L257.0,328.6 L251.2,332.5 L247.3,330.5 L247.5,326.0 L214.4,314.6 L209.5,311.2 L207.6,302.5 L210.0,299.5 L214.4,293.0 L217.6,282.6 L211.8,279.5 Z" stroke-width="1.4"/>
<path d="M211.8,278.5 L246.4,295.5" stroke-width="1.4"/>
<path class="tn" d="M220.0,280.3 L247.5,292.6"/>
<path d="M219.4,275.6 C219.8,275.4 221.0,274.8 222.0,274.6 C223.0,274.4 224.0,274.2 225.3,274.4 C226.6,274.6 229.2,275.4 230.0,275.6" stroke-width="1.3"/>
<path class="tn" d="M219.4,275.6 L219.6,280.2"/>
<ellipse cx="213.5" cy="275" rx="5" ry="4.6" stroke-width="1.3"/>
<ellipse class="tn" cx="214.1" cy="275.2" rx="2.1" ry="2.5"/>
<path d="M231.8,279.5 A3.8,3.8 0 0 1 239.4,282.7" stroke-width="1.3"/>
<path d="M241.6,285.5 A3.5,3.5 0 0 1 248.6,288.6" stroke-width="1.3"/>
<path class="tn" d="M222.9,286 A1.8,1.6 0 0 0 226.4,288"/>
<path class="tn" d="M236.4,293.2 A1.8,1.6 0 0 0 239.9,295.5"/>
<path class="tn" d="M246.4,295.5 C247.5,295.8 251.2,296.1 253.0,297.0 C254.8,297.9 256.4,299.2 257.5,301.0 C258.6,302.8 259.6,305.2 259.5,308.0 C259.4,310.8 258.2,314.8 257.0,318.0 C255.8,321.2 253.6,325.0 252.0,327.0 C250.4,329.0 248.2,329.5 247.5,330.0"/>
<path class="tn" d="M249.0,290.5 L247.8,293.5 L246.4,295.5"/>
<path class="tn" d="M207.6,302.5 L247.8,324.7 L247.3,330.5"/>
<path class="tn" d="M209.5,305.5 L246.5,326.0"/>
<ellipse class="tn" cx="213.9" cy="310.2" rx="2.6" ry="3.3" transform="rotate(-10 213.9 310.2)"/>
<path class="w" d="M146.1,308.4 L158.1,300.8 L162.5,304.1 L166.9,313.9 L188.6,327.0 L190.5,326.5 L194.5,328.5 L194.5,333.0 L194.1,336.2 L189.7,338.0 L186.0,344.0 L184.0,352.0 L184.3,358.0 L187.0,357.5 L193.0,358.5 L196.3,361.0 L196.3,363.4 L191.9,366.7 L185.4,366.0 L183.2,362.5 L159.2,352.0 L152.7,355.3 L144.0,350.4 L145.0,343.8 L143.0,341.0 L136.0,340.0 L133.1,335.0 L133.5,330.0 L138.0,327.5 L140.0,322.0 L142.0,315.0 Z"/>
<path d="M166.9,313.9 C165.8,314.3 162.3,315.3 160.5,316.5 C158.7,317.7 157.3,318.9 156.0,321.0 C154.7,323.1 153.2,325.9 152.5,329.0 C151.8,332.1 151.2,336.7 151.6,339.5 C152.0,342.3 153.6,343.9 154.9,346.0 C156.2,348.1 158.5,351.0 159.2,352.0" stroke-width="1.2"/>
<path d="M162.5,304.1 C161.6,304.5 158.6,305.5 157.0,306.5 C155.4,307.5 154.0,308.4 152.7,310.0 C151.4,311.6 149.8,314.2 149.0,316.0 C148.2,317.8 148.2,318.4 147.8,321.0 C147.4,323.6 146.5,328.8 146.7,331.9 C146.9,335.0 147.9,337.1 148.9,339.5 C149.9,341.9 152.1,344.9 152.7,346.0" stroke-width="1.2"/>
<path d="M150.0,337.0 L182.0,353.0 L183.2,358.0" stroke-width="1.6"/>
<path class="tn" d="M151.0,340.0 L183.0,356.0"/>
<path class="tn" d="M182.1,336.2 L188.6,329.5 L193.0,330.0"/>
<path class="tn" d="M182.1,336.2 L183.0,339.0 L189.7,338.0"/>
<ellipse class="tn" cx="146.1" cy="312" rx="3" ry="3.5"/>
<ellipse class="tn" cx="146.5" cy="312.5" rx="1.3" ry="1.8"/>
<path class="tn" d="M134.0,330.0 C134.7,329.5 136.5,327.2 138.0,327.0 C139.5,326.8 141.8,327.8 143.0,329.0 C144.2,330.2 145.0,332.3 145.0,334.0 C145.0,335.7 144.2,338.0 143.0,339.0 C141.8,340.0 138.8,339.8 138.0,340.0"/>
<ellipse class="tn" cx="137.5" cy="335.2" rx="2.7" ry="3.2"/>
<path class="tn" d="M145.0,343.8 L151.5,347.5 L152.7,355.3"/>
<ellipse class="tn" cx="148.5" cy="349.5" rx="1.8" ry="2.2"/>
<path class="ax" d="M131.4,323.1 L149.4,312.8"/>
<path class="w" d="M98,343.1 L121.1,356.5 L122.2,360.2 C119,362.5 114.5,367.5 112,370.4 L111,371.5 L118.5,375.8 C118,378 117.8,380 117.4,382.3 C116.5,385 115.2,388.5 114.7,390.9 C115.5,392.5 116.5,394 116.8,395.2 C117.2,396.5 117.5,397.5 117.4,398.4 L114.7,401.1 L89.5,386 C87,384.5 85.8,383.5 85.2,382.3 C84,380.5 83.6,379 83.5,378 C82.5,374 82.5,370.5 83.5,367.2 C84,363 84.8,359.5 86.2,356.5 C87.5,353 89.5,350.5 91.6,347.9 C93.5,346 95.5,344.5 98,343.1 Z" stroke-width="1.4"/>
<path class="tn" d="M103.4,347.9 C102.3,349.1 98.9,352.6 97.0,355.0 C95.1,357.4 93.2,359.4 92.0,362.0 C90.8,364.6 90.0,367.7 89.5,370.4 C89.0,373.1 88.9,375.5 89.0,378.0 C89.1,380.5 89.8,384.2 90.0,385.5"/>
<path class="tn" d="M104.6,348.5 C103.5,349.7 100.2,353.2 98.3,355.6 C96.4,358.0 94.5,360.1 93.3,362.6 C92.0,365.1 91.3,368.2 90.8,370.8 C90.3,373.4 90.2,375.9 90.3,378.5 C90.4,381.1 91.1,384.9 91.3,386.2"/>
<path class="tn" d="M118.5,357.6 C117.8,358.3 115.4,360.4 114.0,362.0 C112.6,363.6 111.2,365.0 109.9,367.2 C108.6,369.4 106.9,372.3 106.0,375.0 C105.1,377.7 104.7,380.8 104.5,383.3 C104.3,385.8 104.7,388.0 105.0,390.0 C105.3,392.0 106.3,394.3 106.6,395.2"/>
<path class="tn" d="M119.5,358.6 C118.8,359.3 116.4,361.4 115.0,363.0 C113.6,364.6 112.3,366.1 111.0,368.2 C109.7,370.3 108.1,373.0 107.2,375.6 C106.3,378.2 105.9,381.2 105.7,383.6 C105.5,386.0 105.9,388.2 106.2,390.2 C106.5,392.2 107.5,394.7 107.8,395.6"/>
<path class="w" d="M80.5,370.5 C80.9,369.1 82.7,368.6 83.5,368.8 C84.3,369.1 85.3,370.7 85.5,372.0 C85.7,373.3 85.5,375.7 84.8,376.5 C84.0,377.3 81.7,378.0 81.0,377.0 C80.3,376.0 80.1,371.9 80.5,370.5 Z"/>
<path class="w" d="M682.5,292.0 L686.8,287.7 L689.0,281.3 L693.8,279.1 L700.8,279.1 L703.5,276.4 L712.6,280.7 L712.6,286.1 L707.2,287.2 L706.2,290.9 L701.3,292.6 L698.1,293.1 L721.0,306.0 L726.6,309.2 L757.7,325.9 L758.8,321.6 L764.2,318.3 L768.0,317.5 L771.0,314.8 L782.4,320.5 L782.4,323.7 L777.1,325.9 L776.0,330.2 L771.7,332.3 L764.2,333.4 L759.9,337.1 L756.6,335.0 L730.0,321.0 L722.0,316.0 L684.7,295.8 Z"/>
<path class="tn" d="M683.0,293.5 L686.0,295.5 L722.0,314.5 L728.0,317.0 L757.5,333.5"/>
<ellipse cx="698.1" cy="284.3" rx="5" ry="2.6" stroke-width="1.1"/>
<ellipse cx="767.9" cy="324.2" rx="5" ry="2.6" stroke-width="1.1"/>
<path class="tn" d="M720.0,312.5 L722.0,307.5 L728.0,310.5 L727.6,314.0"/>
<path d="M825.7,229.0 C825.7,230.8 825.6,236.4 825.5,240.0 C825.4,243.6 825.5,246.8 824.8,250.8 C824.0,254.8 822.5,259.8 821.0,264.0 C819.5,268.2 817.5,272.3 815.5,276.3 C813.5,280.3 811.0,284.3 809.0,288.0 C807.0,291.7 805.5,295.0 803.6,298.3 C801.7,301.6 798.9,305.7 797.5,308.0 C796.1,310.3 795.5,310.7 795.2,312.0 C794.9,313.3 794.7,314.7 795.5,316.0 C796.3,317.3 794.2,316.9 800.0,320.0 C805.8,323.1 824.3,331.8 830.0,334.5 C835.7,337.2 832.7,335.8 834.2,336.0 C835.7,336.2 837.4,337.1 839.2,335.6 C841.0,334.1 843.0,329.8 845.0,327.0 C847.0,324.2 848.9,321.8 851.0,319.0 C853.1,316.2 855.7,313.7 857.9,310.2 C860.1,306.7 862.1,301.7 864.0,298.0 C865.9,294.3 867.8,290.2 869.0,288.0 C870.2,285.8 870.6,286.5 871.4,284.7 C872.2,282.9 873.0,279.2 874.0,277.0 C875.0,274.8 876.8,272.2 877.4,271.2" stroke-width="1.3"/>
<path d="M829.9,233.0 C829.8,234.7 829.8,239.5 829.5,243.0 C829.2,246.5 829.0,250.2 828.2,254.2 C827.4,258.2 826.0,262.8 824.5,267.0 C823.0,271.2 821.0,275.5 818.9,279.7 C816.8,283.9 814.1,288.3 812.0,292.0 C809.9,295.7 808.0,298.8 806.0,302.0 C804.0,305.2 801.0,309.3 800.3,311.5 C799.5,313.7 796.5,312.0 801.5,315.0 C806.5,318.0 824.3,326.8 830.0,329.5 C835.7,332.2 834.5,331.4 835.8,331.5 C837.1,331.6 836.8,331.4 838.0,330.0 C839.2,328.6 841.2,325.5 843.0,323.0 C844.8,320.5 847.0,317.8 849.0,315.0 C851.0,312.2 853.0,309.2 855.0,306.0 C857.0,302.8 859.2,299.5 861.0,296.0 C862.8,292.5 864.5,288.6 866.0,285.0 C867.5,281.4 869.1,276.3 869.7,274.6" stroke-width="1.1"/>
<path class="w" d="M791.8,226.3 L792.6,229.0 L801.1,234.7 L802.0,232.2 L812.1,228.0 L816.0,229.5 L825.7,231.0 L862.0,254.0 L866.4,261.0 L862.1,264.4 L862.1,267.8 L871.4,272.9 L873.1,270.3 L879.9,267.8 L884.2,262.7 L883.3,255.9 L887.5,254.2 L886.7,250.0 L879.9,244.9 L888.4,239.0 L887.5,234.7 L840.1,209.3 L825.7,217.0 L813.8,212.7 L808.7,217.0 L800.3,216.1 L795.2,218.6 Z" stroke-width="1.3"/>
<path class="tn" d="M792.0,226.5 L797.0,224.0 L808.0,225.5 L812.5,222.5 L825.7,226.0 L884.0,257.0"/>
<path d="M829.9,221.2 L840.9,216.5 L856.2,225.0 L845.2,230.0 Z"/>
<path class="tn" d="M832.0,222.0 L841.0,218.5 L853.0,225.0"/>
<path d="M852.8,233.0 L864.7,228.5 L878.2,236.0 L866.4,241.0 Z"/>
<path class="tn" d="M855.0,233.5 L864.5,230.0 L875.5,236.0"/>
<ellipse cx="804.5" cy="221.5" rx="4.2" ry="2.4" stroke-width="1.1"/>
<ellipse cx="874" cy="260.2" rx="4.2" ry="2.4" stroke-width="1.1"/>
<path d="M858.2,383.6 C858.2,385.5 858.5,391.4 858.5,395.0 C858.5,398.6 858.7,400.8 858.2,405.0 C857.7,409.2 856.6,415.8 855.5,420.0 C854.4,424.2 853.1,427.1 851.7,430.1 C850.3,433.1 848.5,435.6 847.0,438.0 C845.5,440.4 845.0,442.5 843.0,444.6 C841.0,446.7 836.3,449.4 835.0,450.4" stroke-width="1.3"/>
<path class="tn" d="M855.0,383.0 C855.0,385.0 855.1,391.3 855.0,395.0 C854.9,398.7 855.0,401.0 854.5,405.0 C854.0,409.0 853.1,415.0 852.0,419.0 C850.9,423.0 849.5,425.8 848.0,429.0 C846.5,432.2 844.7,435.3 843.0,438.0 C841.3,440.7 838.8,443.8 838.0,445.0"/>
<path class="tn" d="M851.7,382.1 C851.7,385.2 852.1,396.0 851.7,401.0 C851.3,406.0 850.2,408.6 849.5,412.0 C848.8,415.4 848.2,418.4 847.3,421.4 C846.4,424.4 845.2,427.1 844.0,430.0 C842.8,432.9 841.7,436.4 840.1,438.8 C838.5,441.2 835.3,443.6 834.3,444.5"/>
<path d="M805.9,358.2 C805.8,359.8 805.6,365.0 805.5,368.0 C805.4,371.0 805.7,373.0 805.2,376.3 C804.7,379.6 803.5,384.4 802.5,388.0 C801.5,391.6 800.8,394.8 799.4,398.1 C798.0,401.4 795.9,404.9 794.0,408.0 C792.1,411.1 789.8,414.6 787.8,417.0 C785.8,419.4 783.9,420.8 782.0,422.5 C780.1,424.2 778.5,425.6 776.2,427.2 C773.9,428.8 770.7,430.4 768.0,432.0 C765.3,433.6 761.5,435.8 760.2,436.6" stroke-width="1.3"/>
<path class="w" d="M805.9,358.2 L808.0,356.5 L868.0,374.0 L868.0,379.0 L858.2,383.6"/>
<path class="tn" d="M808.0,360.0 L856.0,375.5 L858.0,383.5"/>
<path class="w" d="M812.5,352.3 L812.5,358.0 L837.0,366.0 L839.4,361.8 L839.4,356.0 L822.6,346.5 Z" stroke-width="1.3"/>
<path class="tn" d="M812.5,352.3 L821.0,348.5 L837.5,357.5 L837.0,366.0"/>
<path class="tn" d="M822.5,349.0 L822.5,356.0"/>
<path class="w" d="M836.4,365.4 L836.4,371.0 L859.0,378.5 L861.9,373.4 L861.9,368.3 L845.9,359.6 Z" stroke-width="1.3"/>
<path class="tn" d="M836.4,365.4 L844.0,362.0 L860.0,370.0 L859.0,378.5"/>
<path class="tn" d="M845.5,362.0 L845.5,369.0"/>
<path class="w" d="M758.8,438.7 L758.2,442.8 L765.2,448.0 L766.4,451.6 L806.3,469.1 L815.6,466.2 L820.3,465.6 L833.2,457.4 L833.2,435.2 L829.7,432.8 L816.8,439.8 L815.0,430.5 L806.3,429.3 L785.2,431.6 L783.4,424.6 L784.0,407.0 L778.7,404.7 L765.2,411.7 L764.6,434.0 Z" stroke-width="1.3"/>
<path class="tn" d="M771.7,439.3 C774.0,438.1 778.2,433.8 785.2,432.2 C792.2,430.6 808.9,428.9 813.9,429.9 C818.9,430.9 815.3,434.4 815.5,438.0 C815.7,441.6 817.3,448.6 815.0,451.6 C812.7,454.7 806.4,456.7 801.6,456.3 C796.8,455.9 791.0,451.8 786.0,449.0 C781.0,446.2 774.1,440.9 771.7,439.3"/>
<path class="tn" d="M784.0,446.3 L800.4,433.4"/>
<path class="tn" d="M758.8,440.0 L765.0,444.0 L806.0,462.0 L816.0,460.0"/>
<path class="tn" d="M765.5,414.0 L778.0,408.0 L782.0,410.0 L783.4,424.6"/>
<path class="tn" d="M766.0,414.0 L766.0,433.0"/>
<path class="tn" d="M816.2,440.4 L829.0,434.0 L832.0,436.5 L832.0,457.0"/>
<path class="tn" d="M817.5,441.0 L817.5,463.0"/>
<path class="tn" d="M766.4,451.6 L766.0,454.0 L806.0,471.0 L816.0,468.0"/>
<path d="M163.2,265.9 L163.9,267.7 L165.8,267.8 L164.3,269.0 L164.8,270.8 L163.2,269.7 L161.6,270.8 L162.1,269.0 L160.6,267.8 L162.5,267.7 Z" style="fill:#000;stroke:#000;stroke-width:0.35"/>
<path d="M170.4,265.9 L171.1,267.7 L173.0,267.8 L171.5,269.0 L172.0,270.8 L170.4,269.7 L168.8,270.8 L169.3,269.0 L167.8,267.8 L169.7,267.7 Z" style="fill:#000;stroke:#000;stroke-width:0.35"/>
<path d="M177.6,265.9 L178.3,267.7 L180.2,267.8 L178.7,269.0 L179.2,270.8 L177.6,269.7 L176.0,270.8 L176.5,269.0 L175.0,267.8 L176.9,267.7 Z" style="fill:#000;stroke:#000;stroke-width:0.35"/>
<path d="M90.0,324.3 L90.7,326.1 L92.6,326.2 L91.1,327.4 L91.6,329.2 L90.0,328.1 L88.4,329.2 L88.9,327.4 L87.4,326.2 L89.3,326.1 Z" style="fill:#000;stroke:#000;stroke-width:0.35"/>
<path d="M97.2,324.3 L97.9,326.1 L99.8,326.2 L98.3,327.4 L98.8,329.2 L97.2,328.1 L95.6,329.2 L96.1,327.4 L94.6,326.2 L96.5,326.1 Z" style="fill:#000;stroke:#000;stroke-width:0.35"/>
<path d="M104.4,324.3 L105.1,326.1 L107.0,326.2 L105.5,327.4 L106.0,329.2 L104.4,328.1 L102.8,329.2 L103.3,327.4 L101.8,326.2 L103.7,326.1 Z" style="fill:#000;stroke:#000;stroke-width:0.35"/>
<path d="M36.5,364.3 L37.2,366.1 L39.1,366.2 L37.6,367.4 L38.1,369.2 L36.5,368.1 L34.9,369.2 L35.4,367.4 L33.9,366.2 L35.8,366.1 Z" style="fill:#000;stroke:#000;stroke-width:0.35"/>
<path d="M43.8,364.3 L44.5,366.1 L46.4,366.2 L44.9,367.4 L45.4,369.2 L43.8,368.1 L42.2,369.2 L42.7,367.4 L41.2,366.2 L43.1,366.1 Z" style="fill:#000;stroke:#000;stroke-width:0.35"/>
<path d="M51.1,364.3 L51.8,366.1 L53.7,366.2 L52.2,367.4 L52.7,369.2 L51.1,368.1 L49.5,369.2 L50.0,367.4 L48.5,366.2 L50.4,366.1 Z" style="fill:#000;stroke:#000;stroke-width:0.35"/>
<path d="M551.6,416.8 L552.3,418.6 L554.2,418.7 L552.7,419.9 L553.2,421.7 L551.6,420.6 L550.0,421.7 L550.5,419.9 L549.0,418.7 L550.9,418.6 Z" style="fill:#000;stroke:#000;stroke-width:0.35"/>
<path d="M559.2,416.8 L559.9,418.6 L561.8,418.7 L560.3,419.9 L560.8,421.7 L559.2,420.6 L557.6,421.7 L558.1,419.9 L556.6,418.7 L558.5,418.6 Z" style="fill:#000;stroke:#000;stroke-width:0.35"/>
<path d="M575.8,443.1 L576.5,444.9 L578.4,445.0 L576.9,446.2 L577.4,448.0 L575.8,446.9 L574.2,448.0 L574.7,446.2 L573.2,445.0 L575.1,444.9 Z" style="fill:#000;stroke:#000;stroke-width:0.35"/>
<path d="M583.4,443.1 L584.1,444.9 L586.0,445.0 L584.5,446.2 L585.0,448.0 L583.4,446.9 L581.8,448.0 L582.3,446.2 L580.8,445.0 L582.7,444.9 Z" style="fill:#000;stroke:#000;stroke-width:0.35"/>
<path d="M965.2,532.8 L965.9,534.6 L967.8,534.7 L966.3,535.9 L966.8,537.7 L965.2,536.6 L963.6,537.7 L964.1,535.9 L962.6,534.7 L964.5,534.6 Z" style="fill:#000;stroke:#000;stroke-width:0.35"/>
<path d="M1004.3,601.9 L1005.0,603.7 L1006.9,603.8 L1005.4,605.0 L1005.9,606.8 L1004.3,605.7 L1002.7,606.8 L1003.2,605.0 L1001.7,603.8 L1003.6,603.7 Z" style="fill:#000;stroke:#000;stroke-width:0.35"/>
<path d="M571.0,666.0 L571.7,667.8 L573.6,667.9 L572.1,669.1 L572.6,670.9 L571.0,669.8 L569.4,670.9 L569.9,669.1 L568.4,667.9 L570.3,667.8 Z" style="fill:#000;stroke:#000;stroke-width:0.35"/>
<path d="M920.0,785.4 L920.7,787.2 L922.6,787.3 L921.1,788.5 L921.6,790.3 L920.0,789.2 L918.4,790.3 L918.9,788.5 L917.4,787.3 L919.3,787.2 Z" style="fill:#000;stroke:#000;stroke-width:0.35"/>
<ellipse cx="386.3" cy="310.9" rx="7.0" ry="4.4" stroke-width="2.6"/>
<path d="M379.0,311.5 C378.3,311.1 375.8,310.1 375.0,309.0 C374.2,307.9 374.1,305.9 374.3,305.0 C374.6,304.1 375.6,303.9 376.5,303.6 C377.4,303.3 379.2,303.4 379.8,303.4" stroke-width="1.9"/>
<path class="ax" d="M386.3,304 L386.3,318"/>
<g transform="translate(349.3,197.1) rotate(150) scale(1.0)">
<ellipse class="w" cx="-5" cy="0" rx="3.3" ry="6" style="stroke-width:1.4"/>
<rect class="w" x="-5" y="-6" width="4" height="12" style="stroke:none"/>
<path d="M-5,-6 L-1,-6 M-5,6 L-1,6" style="stroke-width:1.4"/>
<ellipse class="w" cx="0" cy="0" rx="3.8" ry="7.6" style="stroke-width:1.4"/>
<path class="w" d="M1,-3.4 L23,-3.4 A1.8,3.4 0 0 1 23,3.4 L1,3.4"/>
<ellipse class="w" cx="23" cy="0" rx="1.8" ry="3.4" stroke-width="0.8"/>
<path class="th" d="M2.5,-3.3 l0.7,6.6 M3.8,-3.3 l0.7,6.6 M5.0,-3.3 l0.7,6.6 M6.2,-3.3 l0.7,6.6 M7.5,-3.3 l0.7,6.6 M8.8,-3.3 l0.7,6.6 M10.0,-3.3 l0.7,6.6 M11.2,-3.3 l0.7,6.6 M12.5,-3.3 l0.7,6.6 M13.8,-3.3 l0.7,6.6 M15.0,-3.3 l0.7,6.6 M16.2,-3.3 l0.7,6.6 M17.5,-3.3 l0.7,6.6 M18.8,-3.3 l0.7,6.6 M20.0,-3.3 l0.7,6.6 M21.2,-3.3 l0.7,6.6"/>
</g>
<g transform="translate(314.2,331) rotate(31.7) scale(1.0)">
<ellipse class="w" cx="-5" cy="0" rx="3.3" ry="6" style="stroke-width:1.4"/>
<rect class="w" x="-5" y="-6" width="4" height="12" style="stroke:none"/>
<path d="M-5,-6 L-1,-6 M-5,6 L-1,6" style="stroke-width:1.4"/>
<ellipse class="w" cx="0" cy="0" rx="3.8" ry="7.6" style="stroke-width:1.4"/>
<path class="w" d="M1,-3.4 L23,-3.4 A1.8,3.4 0 0 1 23,3.4 L1,3.4"/>
<ellipse class="w" cx="23" cy="0" rx="1.8" ry="3.4" stroke-width="0.8"/>
<path class="th" d="M2.5,-3.3 l0.7,6.6 M3.8,-3.3 l0.7,6.6 M5.0,-3.3 l0.7,6.6 M6.2,-3.3 l0.7,6.6 M7.5,-3.3 l0.7,6.6 M8.8,-3.3 l0.7,6.6 M10.0,-3.3 l0.7,6.6 M11.2,-3.3 l0.7,6.6 M12.5,-3.3 l0.7,6.6 M13.8,-3.3 l0.7,6.6 M15.0,-3.3 l0.7,6.6 M16.2,-3.3 l0.7,6.6 M17.5,-3.3 l0.7,6.6 M18.8,-3.3 l0.7,6.6 M20.0,-3.3 l0.7,6.6 M21.2,-3.3 l0.7,6.6"/>
</g>
<g transform="translate(229.7,387.1) rotate(28.2) scale(1.0)">
<ellipse class="w" cx="-5" cy="0" rx="3.3" ry="6" style="stroke-width:1.4"/>
<rect class="w" x="-5" y="-6" width="4" height="12" style="stroke:none"/>
<path d="M-5,-6 L-1,-6 M-5,6 L-1,6" style="stroke-width:1.4"/>
<ellipse class="w" cx="0" cy="0" rx="3.8" ry="7.6" style="stroke-width:1.4"/>
<path class="w" d="M1,-3.4 L23,-3.4 A1.8,3.4 0 0 1 23,3.4 L1,3.4"/>
<ellipse class="w" cx="23" cy="0" rx="1.8" ry="3.4" stroke-width="0.8"/>
<path class="th" d="M2.5,-3.3 l0.7,6.6 M3.8,-3.3 l0.7,6.6 M5.0,-3.3 l0.7,6.6 M6.2,-3.3 l0.7,6.6 M7.5,-3.3 l0.7,6.6 M8.8,-3.3 l0.7,6.6 M10.0,-3.3 l0.7,6.6 M11.2,-3.3 l0.7,6.6 M12.5,-3.3 l0.7,6.6 M13.8,-3.3 l0.7,6.6 M15.0,-3.3 l0.7,6.6 M16.2,-3.3 l0.7,6.6 M17.5,-3.3 l0.7,6.6 M18.8,-3.3 l0.7,6.6 M20.0,-3.3 l0.7,6.6 M21.2,-3.3 l0.7,6.6"/>
</g>
<g transform="translate(261,460.8) rotate(26.7) scale(1.0)">
<ellipse class="w" cx="-5" cy="0" rx="3.3" ry="6" style="stroke-width:1.4"/>
<rect class="w" x="-5" y="-6" width="4" height="12" style="stroke:none"/>
<path d="M-5,-6 L-1,-6 M-5,6 L-1,6" style="stroke-width:1.4"/>
<ellipse class="w" cx="0" cy="0" rx="3.8" ry="7.6" style="stroke-width:1.4"/>
<path class="w" d="M1,-3.4 L23,-3.4 A1.8,3.4 0 0 1 23,3.4 L1,3.4"/>
<ellipse class="w" cx="23" cy="0" rx="1.8" ry="3.4" stroke-width="0.8"/>
<path class="th" d="M2.5,-3.3 l0.7,6.6 M3.8,-3.3 l0.7,6.6 M5.0,-3.3 l0.7,6.6 M6.2,-3.3 l0.7,6.6 M7.5,-3.3 l0.7,6.6 M8.8,-3.3 l0.7,6.6 M10.0,-3.3 l0.7,6.6 M11.2,-3.3 l0.7,6.6 M12.5,-3.3 l0.7,6.6 M13.8,-3.3 l0.7,6.6 M15.0,-3.3 l0.7,6.6 M16.2,-3.3 l0.7,6.6 M17.5,-3.3 l0.7,6.6 M18.8,-3.3 l0.7,6.6 M20.0,-3.3 l0.7,6.6 M21.2,-3.3 l0.7,6.6"/>
</g>
<g transform="translate(750.1,570.4) rotate(27) scale(1.0)">
<ellipse class="w" cx="-5" cy="0" rx="3.3" ry="6" style="stroke-width:1.4"/>
<rect class="w" x="-5" y="-6" width="4" height="12" style="stroke:none"/>
<path d="M-5,-6 L-1,-6 M-5,6 L-1,6" style="stroke-width:1.4"/>
<ellipse class="w" cx="0" cy="0" rx="3.8" ry="7.6" style="stroke-width:1.4"/>
<path class="w" d="M1,-3.4 L23,-3.4 A1.8,3.4 0 0 1 23,3.4 L1,3.4"/>
<ellipse class="w" cx="23" cy="0" rx="1.8" ry="3.4" stroke-width="0.8"/>
<path class="th" d="M2.5,-3.3 l0.7,6.6 M3.8,-3.3 l0.7,6.6 M5.0,-3.3 l0.7,6.6 M6.2,-3.3 l0.7,6.6 M7.5,-3.3 l0.7,6.6 M8.8,-3.3 l0.7,6.6 M10.0,-3.3 l0.7,6.6 M11.2,-3.3 l0.7,6.6 M12.5,-3.3 l0.7,6.6 M13.8,-3.3 l0.7,6.6 M15.0,-3.3 l0.7,6.6 M16.2,-3.3 l0.7,6.6 M17.5,-3.3 l0.7,6.6 M18.8,-3.3 l0.7,6.6 M20.0,-3.3 l0.7,6.6 M21.2,-3.3 l0.7,6.6"/>
</g>
<g transform="translate(774.5,564.1) rotate(30) scale(1.0)">
<ellipse class="w" cx="-5" cy="0" rx="3.3" ry="6" style="stroke-width:1.4"/>
<rect class="w" x="-5" y="-6" width="4" height="12" style="stroke:none"/>
<path d="M-5,-6 L-1,-6 M-5,6 L-1,6" style="stroke-width:1.4"/>
<ellipse class="w" cx="0" cy="0" rx="3.8" ry="7.6" style="stroke-width:1.4"/>
<path class="w" d="M1,-3.4 L23,-3.4 A1.8,3.4 0 0 1 23,3.4 L1,3.4"/>
<ellipse class="w" cx="23" cy="0" rx="1.8" ry="3.4" stroke-width="0.8"/>
<path class="th" d="M2.5,-3.3 l0.7,6.6 M3.8,-3.3 l0.7,6.6 M5.0,-3.3 l0.7,6.6 M6.2,-3.3 l0.7,6.6 M7.5,-3.3 l0.7,6.6 M8.8,-3.3 l0.7,6.6 M10.0,-3.3 l0.7,6.6 M11.2,-3.3 l0.7,6.6 M12.5,-3.3 l0.7,6.6 M13.8,-3.3 l0.7,6.6 M15.0,-3.3 l0.7,6.6 M16.2,-3.3 l0.7,6.6 M17.5,-3.3 l0.7,6.6 M18.8,-3.3 l0.7,6.6 M20.0,-3.3 l0.7,6.6 M21.2,-3.3 l0.7,6.6"/>
</g>
<g transform="translate(974,610.1) rotate(148) scale(1.0)">
<ellipse class="w" cx="-5" cy="0" rx="3.3" ry="6" style="stroke-width:1.4"/>
<rect class="w" x="-5" y="-6" width="4" height="12" style="stroke:none"/>
<path d="M-5,-6 L-1,-6 M-5,6 L-1,6" style="stroke-width:1.4"/>
<ellipse class="w" cx="0" cy="0" rx="3.8" ry="7.6" style="stroke-width:1.4"/>
<path class="w" d="M1,-3.4 L23,-3.4 A1.8,3.4 0 0 1 23,3.4 L1,3.4"/>
<ellipse class="w" cx="23" cy="0" rx="1.8" ry="3.4" stroke-width="0.8"/>
<path class="th" d="M2.5,-3.3 l0.7,6.6 M3.8,-3.3 l0.7,6.6 M5.0,-3.3 l0.7,6.6 M6.2,-3.3 l0.7,6.6 M7.5,-3.3 l0.7,6.6 M8.8,-3.3 l0.7,6.6 M10.0,-3.3 l0.7,6.6 M11.2,-3.3 l0.7,6.6 M12.5,-3.3 l0.7,6.6 M13.8,-3.3 l0.7,6.6 M15.0,-3.3 l0.7,6.6 M16.2,-3.3 l0.7,6.6 M17.5,-3.3 l0.7,6.6 M18.8,-3.3 l0.7,6.6 M20.0,-3.3 l0.7,6.6 M21.2,-3.3 l0.7,6.6"/>
</g>
<g transform="translate(386,259) rotate(0)">
<path class="w" d="M-7,0 L-7,7 A7,3 0 0 0 7,7 L7,0 Z"/>
<ellipse class="w" cx="0" cy="0" rx="7" ry="4"/>
<ellipse cx="0" cy="0.3" rx="3.6" ry="1.9" stroke-width="0.9"/>
<path d="M0,-1.4 v3" stroke-width="0.8"/>
<path class="w" d="M-4,9.5 L-4,32 A4,2.2 0 0 0 4,32 L4,9.5"/>
<path class="th" d="M-2.6,11.0 h5.2 M-2.6,12.6 h5.2 M-2.6,14.2 h5.2 M-2.6,15.8 h5.2 M-2.6,17.4 h5.2 M-2.6,19.0 h5.2 M-2.6,20.6 h5.2 M-2.6,22.2 h5.2 M-2.6,23.8 h5.2 M-2.6,25.4 h5.2 M-2.6,27.0 h5.2 M-2.6,28.6 h5.2 M-2.6,30.2 h5.2"/>
</g>
<g transform="translate(813.3,497) rotate(0)">
<path class="w" d="M-6.5,0 L-6.5,7 A6.5,3 0 0 0 6.5,7 L6.5,0 Z"/>
<ellipse class="w" cx="0" cy="0" rx="6.5" ry="4"/>
<ellipse cx="0" cy="0.3" rx="3.6" ry="1.9" stroke-width="0.9"/>
<path d="M0,-1.4 v3" stroke-width="0.8"/>
<path class="w" d="M-4,9.5 L-4,32 A4,2.2 0 0 0 4,32 L4,9.5"/>
<path class="th" d="M-2.6,11.0 h5.2 M-2.6,12.6 h5.2 M-2.6,14.2 h5.2 M-2.6,15.8 h5.2 M-2.6,17.4 h5.2 M-2.6,19.0 h5.2 M-2.6,20.6 h5.2 M-2.6,22.2 h5.2 M-2.6,23.8 h5.2 M-2.6,25.4 h5.2 M-2.6,27.0 h5.2 M-2.6,28.6 h5.2 M-2.6,30.2 h5.2"/>
</g>
<g transform="translate(930.4,537.4) rotate(0)">
<path class="w" d="M-6.8,0 L-6.8,7 A6.8,3 0 0 0 6.8,7 L6.8,0 Z"/>
<ellipse class="w" cx="0" cy="0" rx="6.8" ry="4"/>
<ellipse cx="0" cy="0.3" rx="3.6" ry="1.9" stroke-width="0.9"/>
<path d="M0,-1.4 v3" stroke-width="0.8"/>
<path class="w" d="M-4,9.5 L-4,32 A4,2.2 0 0 0 4,32 L4,9.5"/>
<path class="th" d="M-2.6,11.0 h5.2 M-2.6,12.6 h5.2 M-2.6,14.2 h5.2 M-2.6,15.8 h5.2 M-2.6,17.4 h5.2 M-2.6,19.0 h5.2 M-2.6,20.6 h5.2 M-2.6,22.2 h5.2 M-2.6,23.8 h5.2 M-2.6,25.4 h5.2 M-2.6,27.0 h5.2 M-2.6,28.6 h5.2 M-2.6,30.2 h5.2"/>
</g>
<g transform="translate(976.3,795.8) rotate(116)">
<path class="w" d="M-7,0 L-7,7 A7,3 0 0 0 7,7 L7,0 Z"/>
<ellipse class="w" cx="0" cy="0" rx="7" ry="4"/>
<ellipse cx="0" cy="0.3" rx="3.6" ry="1.9" stroke-width="0.9"/>
<path d="M0,-1.4 v3" stroke-width="0.8"/>
<path class="w" d="M-4,9.5 L-4,32 A4,2.2 0 0 0 4,32 L4,9.5"/>
<path class="th" d="M-2.6,11.0 h5.2 M-2.6,12.6 h5.2 M-2.6,14.2 h5.2 M-2.6,15.8 h5.2 M-2.6,17.4 h5.2 M-2.6,19.0 h5.2 M-2.6,20.6 h5.2 M-2.6,22.2 h5.2 M-2.6,23.8 h5.2 M-2.6,25.4 h5.2 M-2.6,27.0 h5.2 M-2.6,28.6 h5.2 M-2.6,30.2 h5.2"/>
</g>
<g transform="translate(671.2,750.5)">
<path class="w" d="M-6,0 L-6,5.5 A6,3.5 0 0 0 6,5.5 L6,0 Z"/>
<ellipse class="w" cx="0" cy="0" rx="7.5" ry="4.5"/>
<path class="w" d="M-4,-1 L-4,-23 A4,2.2 0 0 1 4,-23 L4,-1"/>
<path class="th" d="M-2.6,-3.0 h5.2 M-2.6,-4.6 h5.2 M-2.6,-6.2 h5.2 M-2.6,-7.8 h5.2 M-2.6,-9.4 h5.2 M-2.6,-11.0 h5.2 M-2.6,-12.6 h5.2 M-2.6,-14.2 h5.2 M-2.6,-15.8 h5.2 M-2.6,-17.4 h5.2 M-2.6,-19.0 h5.2 M-2.6,-20.6 h5.2 M-2.6,-22.2 h5.2"/>
</g>
<g transform="translate(790.6,799.3)">
<path class="w" d="M-6,0 L-6,5.5 A6,3.5 0 0 0 6,5.5 L6,0 Z"/>
<ellipse class="w" cx="0" cy="0" rx="7.5" ry="4.5"/>
<path class="w" d="M-4,-1 L-4,-23 A4,2.2 0 0 1 4,-23 L4,-1"/>
<path class="th" d="M-2.6,-3.0 h5.2 M-2.6,-4.6 h5.2 M-2.6,-6.2 h5.2 M-2.6,-7.8 h5.2 M-2.6,-9.4 h5.2 M-2.6,-11.0 h5.2 M-2.6,-12.6 h5.2 M-2.6,-14.2 h5.2 M-2.6,-15.8 h5.2 M-2.6,-17.4 h5.2 M-2.6,-19.0 h5.2 M-2.6,-20.6 h5.2 M-2.6,-22.2 h5.2"/>
</g>
</g>
</svg>
<svg width="60" height="70" style="position:absolute;left:0;top:0" aria-label="L"><path d="M18,19 H24.2 V48.8 H41.7 V54 H18 Z" fill="#000"/></svg>
<div class="t" style="left:76.2px;top:174.0px"><b>***compl</b> 537 30 96-01</div>
<div class="t" style="left:385.8px;top:185.5px">503 21 68-25*** <b>(x2)</b></div>
<div class="t" style="left:594.0px;top:164.0px"><b>**compl</b> 537 04 12-03</div>
<div class="t" style="left:826.8px;top:164.0px"><b>*compl</b> 537 08 52-01</div>
<div class="t" style="left:642.0px;top:221.0px">*537 06 69-01</div>
<div class="t" style="left:424.0px;top:256.0px">503 21 68-20**</div>
<div class="t" style="left:533.8px;top:285.0px">*537 08 85-01</div>
<div class="t" style="left:439.0px;top:303.5px">537 07 36-01</div>
<div class="t" style="left:896.7px;top:398.9px">537 06 68-01*</div>
<div class="t" style="left:78.7px;top:454.9px">*503 21 68-20 <b>(x3)</b></div>
<div class="t" style="left:585.9px;top:475.6px">*503 21 71-16 <b>(x2)</b></div>
<div class="t" style="left:853.3px;top:493.8px">503 21 68-20* <b>(x4)</b></div>
<div class="t" style="left:428.7px;top:577.0px">537 08 86-01</div>
<div class="t" style="left:504.6px;top:742.2px">*503 21 77-16</div>
<div class="t" style="left:646.2px;top:795.0px">*503 21 66-20</div>
</body></html>
